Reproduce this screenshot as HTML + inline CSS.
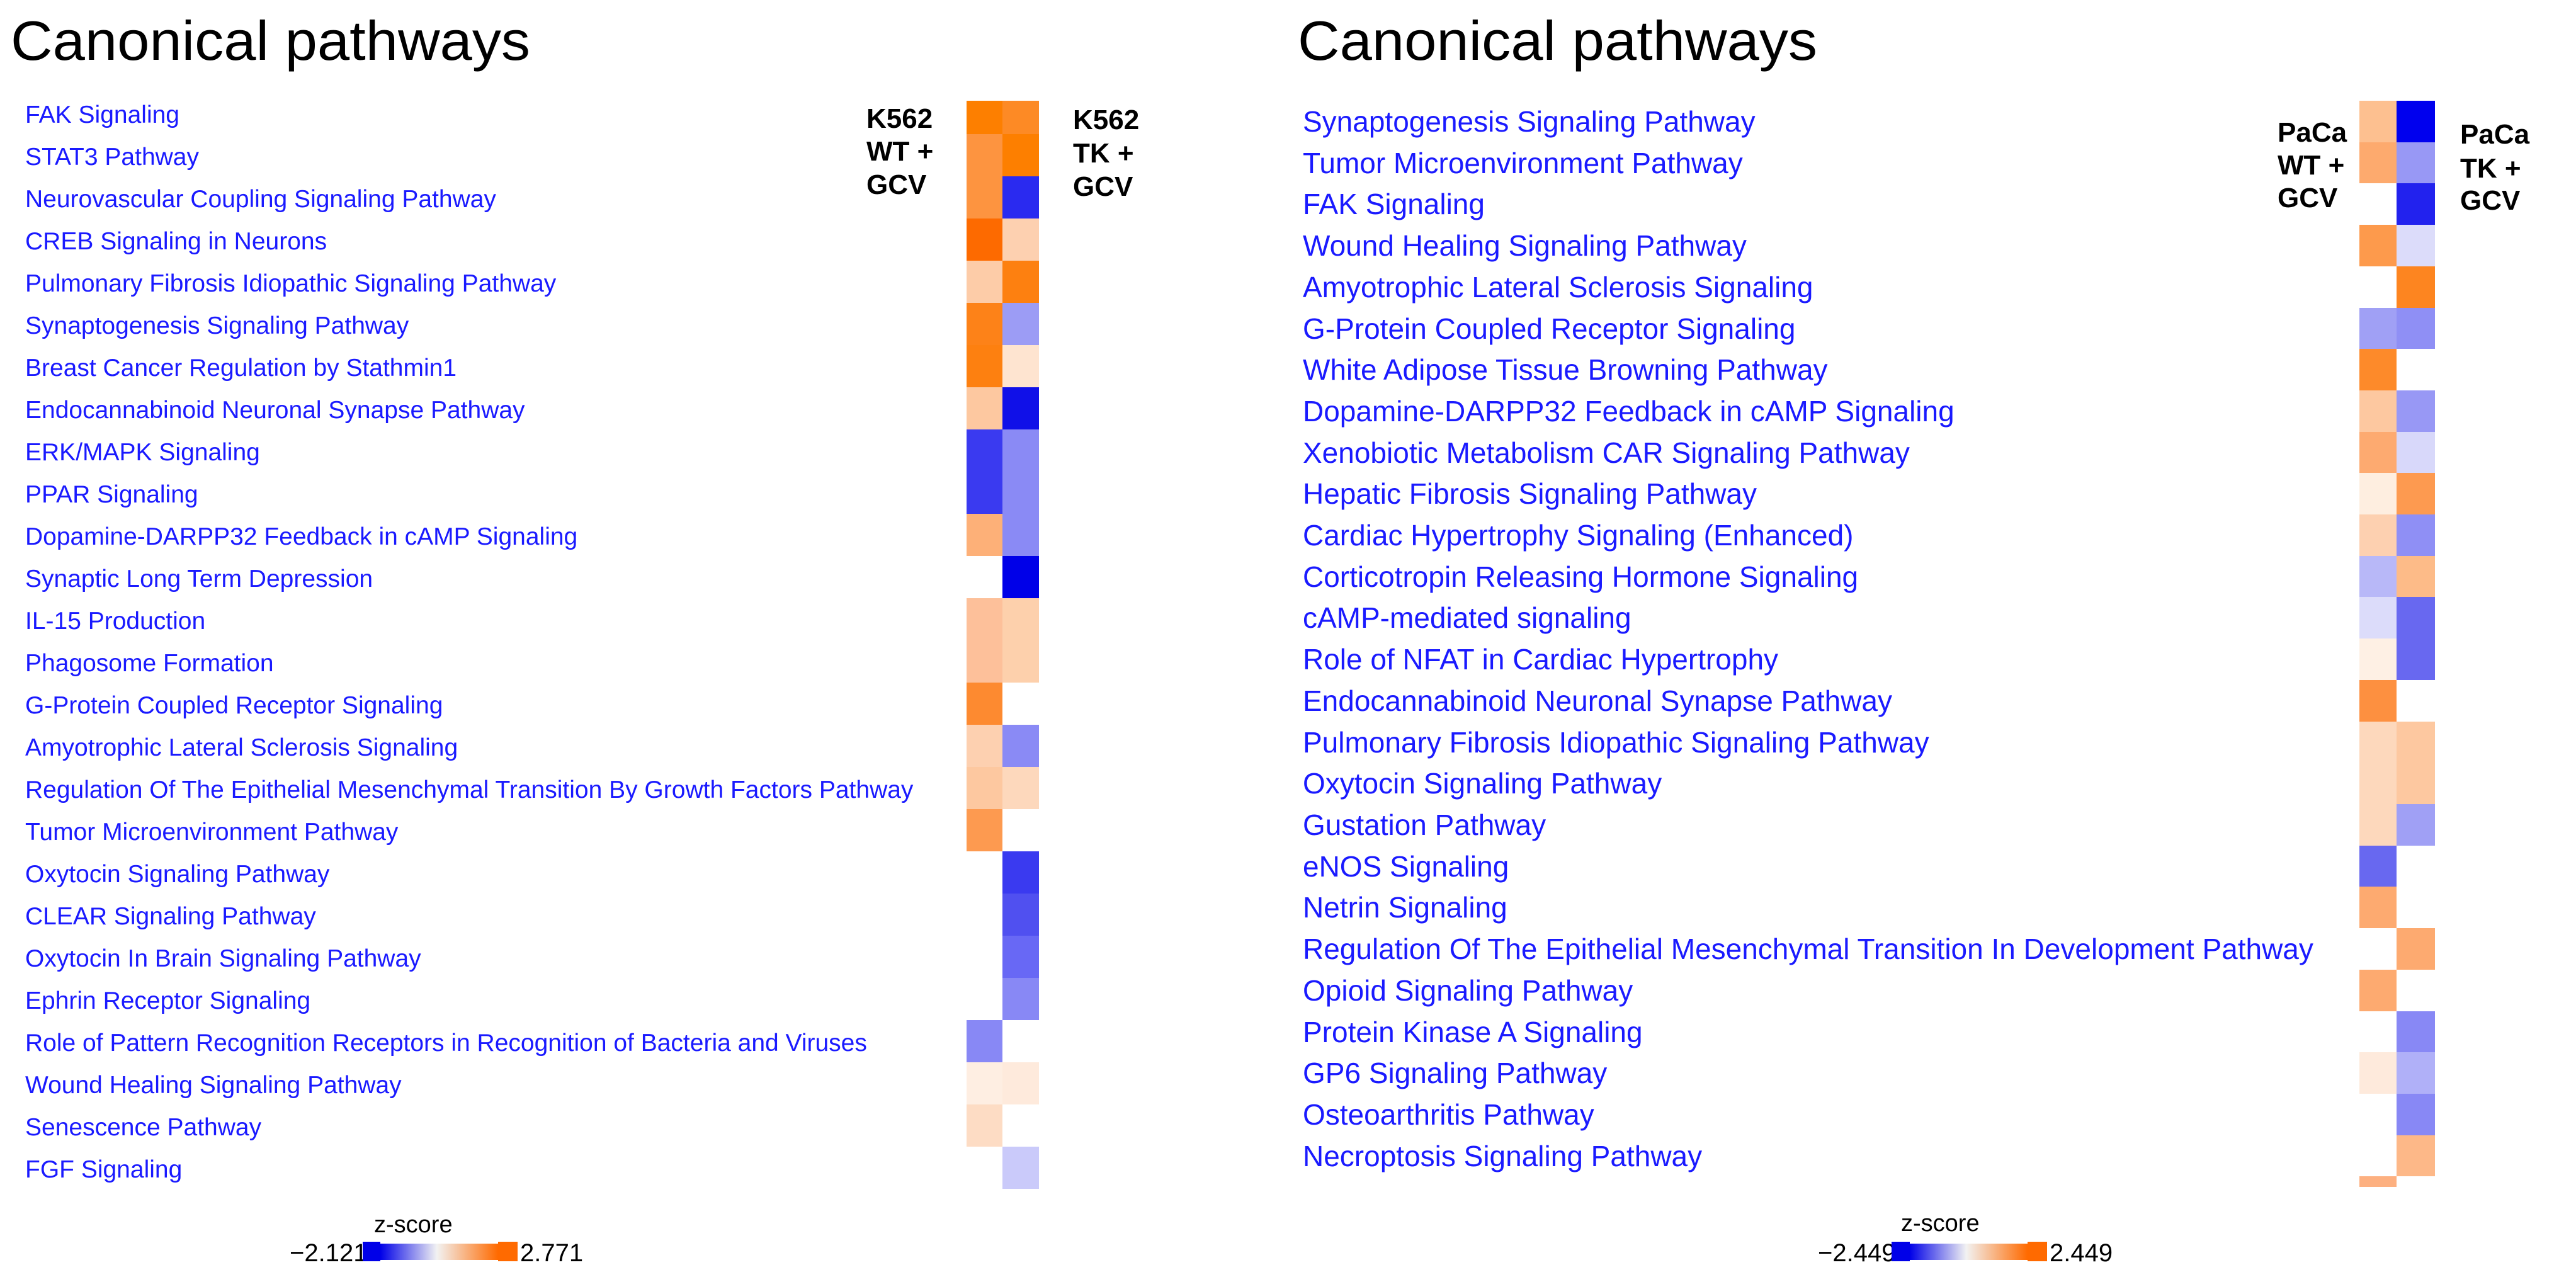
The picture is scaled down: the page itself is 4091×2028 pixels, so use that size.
<!DOCTYPE html>
<html><head><meta charset="utf-8"><style>
html,body{margin:0;padding:0;background:#fff;}
svg{display:block;}
.t{font-family:"Liberation Sans",sans-serif;fill:#000;}
.l{font-family:"Liberation Sans",sans-serif;fill:#1a1aff;font-size:39px;}
.r{font-family:"Liberation Sans",sans-serif;fill:#1a1aff;font-size:46px;}
.h{font-family:"Liberation Sans",sans-serif;font-weight:bold;font-size:44px;fill:#000;}
</style></head><body>
<svg width="4091" height="2028" viewBox="0 0 4091 2028" xmlns="http://www.w3.org/2000/svg">
<defs>
<linearGradient id="g" x1="0" x2="1" y1="0" y2="0">
<stop offset="0" stop-color="#0000e8"/><stop offset="0.48" stop-color="#f2f2f2"/><stop offset="1" stop-color="#ff6a00"/>
</linearGradient>
</defs>
<text class="t" x="17" y="95" font-size="88" textLength="825" lengthAdjust="spacingAndGlyphs">Canonical pathways</text>
<text class="t" x="2061" y="95" font-size="88" textLength="825" lengthAdjust="spacingAndGlyphs">Canonical pathways</text>

<!-- left labels -->
<g class="l">
<text x="40" y="195">FAK Signaling</text>
<text x="40" y="262">STAT3 Pathway</text>
<text x="40" y="329">Neurovascular Coupling Signaling Pathway</text>
<text x="40" y="396">CREB Signaling in Neurons</text>
<text x="40" y="463">Pulmonary Fibrosis Idiopathic Signaling Pathway</text>
<text x="40" y="530">Synaptogenesis Signaling Pathway</text>
<text x="40" y="597">Breast Cancer Regulation by Stathmin1</text>
<text x="40" y="664">Endocannabinoid Neuronal Synapse Pathway</text>
<text x="40" y="731">ERK/MAPK Signaling</text>
<text x="40" y="798">PPAR Signaling</text>
<text x="40" y="865">Dopamine-DARPP32 Feedback in cAMP Signaling</text>
<text x="40" y="932">Synaptic Long Term Depression</text>
<text x="40" y="999">IL-15 Production</text>
<text x="40" y="1066">Phagosome Formation</text>
<text x="40" y="1133">G-Protein Coupled Receptor Signaling</text>
<text x="40" y="1200">Amyotrophic Lateral Sclerosis Signaling</text>
<text x="40" y="1267">Regulation Of The Epithelial Mesenchymal Transition By Growth Factors Pathway</text>
<text x="40" y="1334">Tumor Microenvironment Pathway</text>
<text x="40" y="1401">Oxytocin Signaling Pathway</text>
<text x="40" y="1468">CLEAR Signaling Pathway</text>
<text x="40" y="1535">Oxytocin In Brain Signaling Pathway</text>
<text x="40" y="1602">Ephrin Receptor Signaling</text>
<text x="40" y="1669">Role of Pattern Recognition Receptors in Recognition of Bacteria and Viruses</text>
<text x="40" y="1736">Wound Healing Signaling Pathway</text>
<text x="40" y="1803">Senescence Pathway</text>
<text x="40" y="1870">FGF Signaling</text>
</g>

<!-- left heatmap -->
<g>
<rect x="1535" y="160" width="57" height="53" fill="#fd7f00"/><rect x="1592" y="160" width="58" height="53" fill="#fd8a25"/>
<rect x="1535" y="213" width="57" height="67" fill="#fd9440"/><rect x="1592" y="213" width="58" height="67" fill="#fd7f00"/>
<rect x="1535" y="280" width="57" height="67" fill="#fd9440"/><rect x="1592" y="280" width="58" height="67" fill="#2a2af0"/>
<rect x="1535" y="347" width="57" height="67" fill="#fd6a00"/><rect x="1592" y="347" width="58" height="67" fill="#fdd0b0"/>
<rect x="1535" y="414" width="57" height="67" fill="#fdcca8"/><rect x="1592" y="414" width="58" height="67" fill="#fd8010"/>
<rect x="1535" y="481" width="57" height="67" fill="#fd8218"/><rect x="1592" y="481" width="58" height="67" fill="#9c9cf5"/>
<rect x="1535" y="548" width="57" height="67" fill="#fd8010"/><rect x="1592" y="548" width="58" height="67" fill="#fee4d0"/>
<rect x="1535" y="615" width="57" height="67" fill="#fdc8a0"/><rect x="1592" y="615" width="58" height="67" fill="#1010e8"/>
<rect x="1535" y="682" width="57" height="67" fill="#3a3af0"/><rect x="1592" y="682" width="58" height="67" fill="#8a8af5"/>
<rect x="1535" y="749" width="57" height="67" fill="#3a3af0"/><rect x="1592" y="749" width="58" height="67" fill="#8a8af5"/>
<rect x="1535" y="816" width="57" height="67" fill="#fdb078"/><rect x="1592" y="816" width="58" height="67" fill="#8a8af5"/>
<rect x="1592" y="883" width="58" height="67" fill="#0000e8"/>
<rect x="1535" y="950" width="57" height="67" fill="#fdc09a"/><rect x="1592" y="950" width="58" height="67" fill="#fdd0ac"/>
<rect x="1535" y="1017" width="57" height="67" fill="#fdc09a"/><rect x="1592" y="1017" width="58" height="67" fill="#fdd0ac"/>
<rect x="1535" y="1084" width="57" height="67" fill="#fd8a30"/>
<rect x="1535" y="1151" width="57" height="67" fill="#fdd0b0"/><rect x="1592" y="1151" width="58" height="67" fill="#8a8af5"/>
<rect x="1535" y="1218" width="57" height="67" fill="#fdc8a0"/><rect x="1592" y="1218" width="58" height="67" fill="#fdd8bc"/>
<rect x="1535" y="1285" width="57" height="67" fill="#fd9a50"/>
<rect x="1592" y="1352" width="58" height="67" fill="#3a3af0"/>
<rect x="1592" y="1419" width="58" height="67" fill="#5050f0"/>
<rect x="1592" y="1486" width="58" height="67" fill="#6868f5"/>
<rect x="1592" y="1553" width="58" height="67" fill="#8888f5"/>
<rect x="1535" y="1620" width="57" height="67" fill="#8888f5"/>
<rect x="1535" y="1687" width="57" height="67" fill="#feeee2"/><rect x="1592" y="1687" width="58" height="67" fill="#feeadc"/>
<rect x="1535" y="1754" width="57" height="67" fill="#fddcc4"/>
<rect x="1592" y="1821" width="58" height="67" fill="#cacafa"/>
</g>
<text class="h" x="1376" y="203">K562</text>
<text class="h" x="1376" y="255">WT +</text>
<text class="h" x="1376" y="308">GCV</text>
<text class="h" x="1704" y="205">K562</text>
<text class="h" x="1704" y="258">TK +</text>
<text class="h" x="1704" y="311">GCV</text>

<!-- left colorbar -->
<text class="t" x="594" y="1957" font-size="38">z-score</text>
<text class="t" x="460" y="2003" font-size="40">−2.121</text>
<rect x="604" y="1975" width="187" height="26" fill="url(#g)"/>
<rect x="576" y="1972" width="28" height="31" fill="#0000e8"/>
<rect x="791" y="1972" width="31" height="31" fill="#ff6a00"/>
<text class="t" x="826" y="2003" font-size="40">2.771</text>

<!-- right labels -->
<g class="r">
<text x="2069" y="209">Synaptogenesis Signaling Pathway</text>
<text x="2069" y="275">Tumor Microenvironment Pathway</text>
<text x="2069" y="340">FAK Signaling</text>
<text x="2069" y="406">Wound Healing Signaling Pathway</text>
<text x="2069" y="472">Amyotrophic Lateral Sclerosis Signaling</text>
<text x="2069" y="538">G-Protein Coupled Receptor Signaling</text>
<text x="2069" y="603">White Adipose Tissue Browning Pathway</text>
<text x="2069" y="669">Dopamine-DARPP32 Feedback in cAMP Signaling</text>
<text x="2069" y="735">Xenobiotic Metabolism CAR Signaling Pathway</text>
<text x="2069" y="800">Hepatic Fibrosis Signaling Pathway</text>
<text x="2069" y="866">Cardiac Hypertrophy Signaling (Enhanced)</text>
<text x="2069" y="932">Corticotropin Releasing Hormone Signaling</text>
<text x="2069" y="997">cAMP-mediated signaling</text>
<text x="2069" y="1063">Role of NFAT in Cardiac Hypertrophy</text>
<text x="2069" y="1129">Endocannabinoid Neuronal Synapse Pathway</text>
<text x="2069" y="1195">Pulmonary Fibrosis Idiopathic Signaling Pathway</text>
<text x="2069" y="1260">Oxytocin Signaling Pathway</text>
<text x="2069" y="1326">Gustation Pathway</text>
<text x="2069" y="1392">eNOS Signaling</text>
<text x="2069" y="1457">Netrin Signaling</text>
<text x="2069" y="1523">Regulation Of The Epithelial Mesenchymal Transition In Development Pathway</text>
<text x="2069" y="1589">Opioid Signaling Pathway</text>
<text x="2069" y="1655">Protein Kinase A Signaling</text>
<text x="2069" y="1720">GP6 Signaling Pathway</text>
<text x="2069" y="1786">Osteoarthritis Pathway</text>
<text x="2069" y="1852">Necroptosis Signaling Pathway</text>
</g>

<!-- right heatmap -->
<g>
<rect x="3747" y="160" width="59" height="66" fill="#fdc090"/><rect x="3806" y="160" width="61" height="66" fill="#0000ee"/>
<rect x="3747" y="226" width="59" height="65" fill="#fdaa6e"/><rect x="3806" y="226" width="61" height="65" fill="#9898f5"/>
<rect x="3806" y="291" width="61" height="66" fill="#2222ee"/>
<rect x="3747" y="357" width="59" height="66" fill="#fd9a4c"/><rect x="3806" y="357" width="61" height="66" fill="#dcdcfa"/>
<rect x="3806" y="423" width="61" height="66" fill="#fd8520"/>
<rect x="3747" y="489" width="59" height="65" fill="#a0a0f5"/><rect x="3806" y="489" width="61" height="65" fill="#8f8ff5"/>
<rect x="3747" y="554" width="59" height="66" fill="#fd8a2a"/>
<rect x="3747" y="620" width="59" height="66" fill="#fdc8a0"/><rect x="3806" y="620" width="61" height="66" fill="#9898f5"/>
<rect x="3747" y="686" width="59" height="65" fill="#fdaa70"/><rect x="3806" y="686" width="61" height="65" fill="#d8d8fa"/>
<rect x="3747" y="751" width="59" height="66" fill="#feeee0"/><rect x="3806" y="751" width="61" height="66" fill="#fd9a50"/>
<rect x="3747" y="817" width="59" height="66" fill="#fdd0b0"/><rect x="3806" y="817" width="61" height="66" fill="#8f8ff5"/>
<rect x="3747" y="883" width="59" height="65" fill="#b8b8f8"/><rect x="3806" y="883" width="61" height="65" fill="#fdbb88"/>
<rect x="3747" y="948" width="59" height="66" fill="#dcdcfa"/><rect x="3806" y="948" width="61" height="66" fill="#6868f0"/>
<rect x="3747" y="1014" width="59" height="66" fill="#fef0e4"/><rect x="3806" y="1014" width="61" height="66" fill="#6868f0"/>
<rect x="3747" y="1080" width="59" height="66" fill="#fd9040"/>
<rect x="3747" y="1146" width="59" height="65" fill="#fdd8bc"/><rect x="3806" y="1146" width="61" height="65" fill="#fdc8a0"/>
<rect x="3747" y="1211" width="59" height="66" fill="#fdd8bc"/><rect x="3806" y="1211" width="61" height="66" fill="#fdc8a0"/>
<rect x="3747" y="1277" width="59" height="66" fill="#fdd8bc"/><rect x="3806" y="1277" width="61" height="66" fill="#a0a0f5"/>
<rect x="3747" y="1343" width="59" height="65" fill="#6868f0"/>
<rect x="3747" y="1408" width="59" height="66" fill="#fdaa70"/>
<rect x="3806" y="1474" width="61" height="66" fill="#fdaa70"/>
<rect x="3747" y="1540" width="59" height="66" fill="#fdaa70"/>
<rect x="3806" y="1606" width="61" height="65" fill="#8888f5"/>
<rect x="3747" y="1671" width="59" height="66" fill="#feeadc"/><rect x="3806" y="1671" width="61" height="66" fill="#b0b0f8"/>
<rect x="3806" y="1737" width="61" height="66" fill="#8888f5"/>
<rect x="3806" y="1803" width="61" height="65" fill="#fdb888"/>
<rect x="3747" y="1868" width="59" height="17" fill="#fdb080"/>
</g>
<text class="h" x="3617" y="225">PaCa</text>
<text class="h" x="3617" y="277">WT +</text>
<text class="h" x="3617" y="329">GCV</text>
<text class="h" x="3907" y="228">PaCa</text>
<text class="h" x="3907" y="282">TK +</text>
<text class="h" x="3907" y="333">GCV</text>

<!-- right colorbar -->
<text class="t" x="3019" y="1955" font-size="38">z-score</text>
<text class="t" x="2887" y="2003" font-size="40">−2.449</text>
<rect x="3033" y="1975" width="187" height="26" fill="url(#g)"/>
<rect x="3004" y="1972" width="29" height="31" fill="#0000e8"/>
<rect x="3220" y="1972" width="31" height="31" fill="#ff6a00"/>
<text class="t" x="3255" y="2003" font-size="40">2.449</text>
</svg>
</body></html>
